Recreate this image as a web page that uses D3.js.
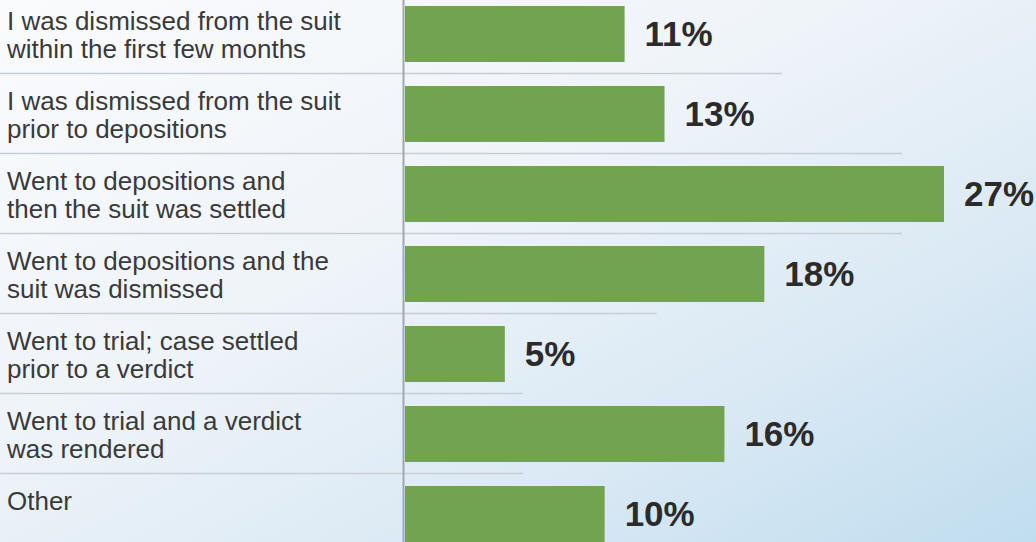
<!DOCTYPE html>
<html>
<head>
<meta charset="utf-8">
<script src="https://cdn.jsdelivr.net/npm/d3@7"></script>
<style>
  html, body { margin: 0; padding: 0; overflow: hidden; }
  svg { display: block; }
</style>
</head>
<body>
<svg id="chart" width="1036" height="542"></svg>
<script>
// Outcome of the suit, share of respondents
const outcomes = [
  ["I was dismissed from the suit", "within the first few months"],
  ["I was dismissed from the suit", "prior to depositions"],
  ["Went to depositions and", "then the suit was settled"],
  ["Went to depositions and the", "suit was dismissed"],
  ["Went to trial; case settled", "prior to a verdict"],
  ["Went to trial and a verdict", "was rendered"],
  ["Other"]
];
const shares = [11, 13, 27, 18, 5, 16, 10];
// how far (in percent units) each row divider runs to the right
const dividerReach = [18.9, 24.9, 24.9, 12.6, 5.9, 5.9];

const W = 1036, H = 542;
const svg = d3.select("#chart");

// soft white-to-blue backdrop
const defs = svg.append("defs");
const grad = defs.append("linearGradient")
  .attr("id", "bg").attr("x1", 0).attr("y1", 0).attr("x2", 1).attr("y2", 1);
grad.append("stop").attr("offset", 0).attr("stop-color", "#fafbfd");
grad.append("stop").attr("offset", 0.4).attr("stop-color", "#eff4f9");
grad.append("stop").attr("offset", 0.72).attr("stop-color", "#dae9f4");
grad.append("stop").attr("offset", 1).attr("stop-color", "#c0ddef");
svg.append("rect").attr("width", W).attr("height", H).attr("fill", "url(#bg)");

const idx = d3.range(shares.length);
const x = d3.scaleLinear().domain([0, 27]).range([405, 944]);
const y = d3.scaleBand().domain(idx).range([-6, 554])
  .paddingInner(0.3).paddingOuter(0.15);
const step = y.step();

// row dividers
svg.append("g").selectAll("line")
  .data(dividerReach)
  .join("line")
  .attr("x1", 0)
  .attr("x2", d => x(d))
  .attr("y1", (d, i) => y(i) + y.bandwidth() + step * 0.15 - 0.5)
  .attr("y2", (d, i) => y(i) + y.bandwidth() + step * 0.15 - 0.5)
  .attr("stroke", "#c7cdd5")
  .attr("stroke-width", 1.5);

// bars
svg.append("g").selectAll("rect")
  .data(shares)
  .join("rect")
  .attr("x", x(0))
  .attr("y", (d, i) => y(i))
  .attr("width", d => x(d) - x(0))
  .attr("height", y.bandwidth())
  .attr("fill", "#71a350");

// vertical axis line
svg.append("line")
  .attr("x1", x(0) - 1.5).attr("x2", x(0) - 1.5)
  .attr("y1", 0).attr("y2", H)
  .attr("stroke", "#a2a8b0")
  .attr("stroke-width", 2);

// category labels
const labels = svg.append("g")
  .attr("font-family", "'Liberation Sans', Arial, sans-serif")
  .attr("font-size", 26)
  .attr("fill", "#3a3a3a");
outcomes.forEach((lines, i) => {
  const c = y(i) + y.bandwidth() / 2;
  const t = labels.append("text").attr("x", 7);
  lines.forEach((ln, j) => {
    t.append("tspan").attr("x", 7).attr("y", c - 4 + j * 28).text(ln);
  });
});

// value labels
svg.append("g").selectAll("text")
  .data(shares)
  .join("text")
  .attr("x", d => x(d) + 20)
  .attr("y", (d, i) => y(i) + y.bandwidth() / 2 + 12)
  .attr("font-family", "'Liberation Sans', Arial, sans-serif")
  .attr("font-weight", "bold")
  .attr("font-size", 35)
  .attr("fill", "#2b2b2b")
  .text(d => d + "%");
</script>
</body>
</html>
